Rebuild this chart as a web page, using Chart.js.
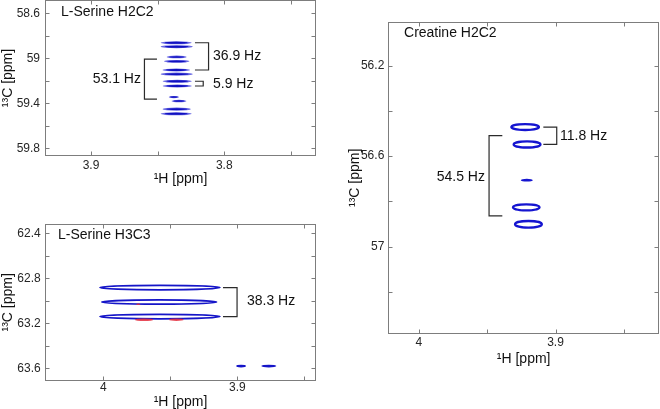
<!DOCTYPE html>
<html><head><meta charset="utf-8">
<script src="https://cdn.jsdelivr.net/npm/chart.js@4.4.1/dist/chart.umd.min.js"></script>
<style>
html,body{margin:0;padding:0;background:#fff;overflow:hidden;width:660px;height:409px;}
canvas{position:absolute;display:block;}
</style></head><body>
<canvas id="c1" width="330" height="200" style="left:0;top:0"></canvas>
<canvas id="c2" width="330" height="210" style="left:0;top:205px"></canvas>
<canvas id="c3" width="330" height="409" style="left:330px;top:0"></canvas>
<script>
// ---------- Panel A: L-Serine H2C2 ----------
const serH2C2_H     = [3.8361, 3.8357, 3.8357, 3.8357, 3.8360, 3.8357, 3.8353, 3.8353, 3.8378, 3.8340, 3.8357, 3.8361];
const serH2C2_C     = [58.862, 58.897, 58.988, 59.027, 59.104, 59.141, 59.204, 59.246, 59.344, 59.380, 59.452, 59.493];
const serH2C2_HalfH = [0.0116, 0.0120, 0.0075, 0.0095, 0.0103, 0.0120, 0.0109, 0.0109, 0.0038, 0.0056, 0.0105, 0.0116];
const serH2C2_HalfC = [0.014, 0.014, 0.012, 0.013, 0.014, 0.014, 0.014, 0.014, 0.010, 0.011, 0.014, 0.014];
const serH2C2_xTicks = [3.9, 3.8];
const serH2C2_yTicks = [58.6, 59, 59.4, 59.8];

// ---------- Panel B: L-Serine H3C3 ----------
const serH3C3_H     = [3.9577, 3.9583, 3.9577, 3.8972, 3.8765];
const serH3C3_C     = [62.882, 63.011, 63.140, 63.580, 63.580];
const serH3C3_HalfH = [0.0448, 0.0429, 0.0448, 0.0037, 0.0056];
const serH3C3_HalfC = [0.020, 0.019, 0.020, 0.012, 0.012];
const serH3C3Neg_H     = [3.9696, 3.9455, 3.9739];
const serH3C3Neg_C     = [63.168, 63.168, 63.031];
const serH3C3Neg_HalfH = [0.0070, 0.0055, 0.0015];
const serH3C3Neg_HalfC = [0.012, 0.011, 0.007];
const serH3C3_xTicks = [4, 3.9];
const serH3C3_yTicks = [62.4, 62.8, 63.2, 63.6];

// ---------- Panel C: Creatine H2C2 ----------
const creH2C2_H     = [3.9222, 3.9208, 3.9210, 3.9214, 3.9198];
const creH2C2_C     = [56.472, 56.549, 56.707, 56.827, 56.902];
const creH2C2_HalfH = [0.0101, 0.0098, 0.0044, 0.0097, 0.0098];
const creH2C2_HalfC = [0.0130, 0.0135, 0.0060, 0.0135, 0.0147];
const creH2C2_Fill  = [false, false, true, false, false];
const creH2C2_xTicks = [4, 3.9];
const creH2C2_yTicks = [56.2, 56.6, 57];

// ---------- Coupling annotations (ppm coordinates) ----------
const serH2C2_couplings = [
  {text: '36.9 Hz', open: 3.8220, spine: 3.8118, c1: 58.862, c2: 59.104, labelH: 3.8085, labelC: 58.985, side: 'right'},
  {text: '5.9 Hz',  open: 3.8220, spine: 3.8158, c1: 59.204, c2: 59.246, labelH: 3.8085, labelC: 59.233, side: 'right'},
  {text: '53.1 Hz', open: 3.8505, spine: 3.8599, c1: 59.008, c2: 59.362, labelH: 3.8625, labelC: 59.184, side: 'left'}
];
const serH3C3_couplings = [
  {text: '38.3 Hz', open: 3.9107, spine: 3.9002, c1: 62.882, c2: 63.140, labelH: 3.8928, labelC: 63.002, side: 'right'}
];
const creH2C2_couplings = [
  {text: '11.8 Hz', open: 3.9089, spine: 3.8991, c1: 56.472, c2: 56.549, labelH: 3.8967, labelC: 56.512, side: 'right'},
  {text: '54.5 Hz', open: 3.9389, spine: 3.9486, c1: 56.510, c2: 56.865, labelH: 3.9516, labelC: 56.693, side: 'left'}
];

const FONT = '"Liberation Sans", Arial, Helvetica, sans-serif';
Chart.defaults.font.family = FONT;

function peaks(H, C, HH, HC, fill) {
  return H.map((h, i) => ({x: h, y: C[i], hw: HH[i], hc: HC[i], fill: fill ? fill[i] : undefined}));
}

const nmrPlugin = {
  id: 'nmr',
  afterDatasetsDraw(chart) {
    const {ctx, chartArea: a, scales: {x, y}} = chart;
    const o = chart.options.plugins.nmr;
    ctx.save();
    ctx.beginPath(); ctx.rect(a.left, a.top, a.width, a.height); ctx.clip();
    chart.data.datasets.forEach(ds => {
      ds.data.forEach(p => {
        const cx = x.getPixelForValue(p.x), cy = y.getPixelForValue(p.y);
        const rx = Math.abs(x.getPixelForValue(p.x + p.hw) - cx);
        const ry = Math.abs(y.getPixelForValue(p.y + p.hc) - cy);
        const style = p.fill === true ? 'fill' : (p.fill === false ? 'ring' : ds.contourStyle);
        ctx.beginPath();
        ctx.ellipse(cx, cy, rx, ry, 0, 0, Math.PI * 2);
        if (style === 'lens') {
          ctx.fillStyle = 'rgba(40,40,215,0.7)'; ctx.fill();
          ctx.beginPath(); ctx.ellipse(cx, cy, rx * 0.75, ry * 0.6, 0, 0, Math.PI * 2);
          ctx.fillStyle = ds.color; ctx.fill();
        } else if (style === 'fill') {
          ctx.fillStyle = ds.color; ctx.fill();
        } else {
          ctx.lineWidth = ds.ringWidth || 1.6; ctx.strokeStyle = ds.color; ctx.stroke();
        }
      });
    });
    ctx.restore();

    // frame + inward ticks
    ctx.save();
    ctx.strokeStyle = '#7d7d7d'; ctx.lineWidth = 1;
    const L = Math.round(a.left) + 0.5, R = Math.round(a.right) - 0.5, T = Math.round(a.top) + 0.5, B = Math.round(a.bottom) - 0.5;
    ctx.strokeRect(L, T, R - L, B - T);
    ctx.beginPath();
    const tl = 4;
    x.ticks.forEach(t => {
      const px = Math.round(x.getPixelForValue(t.value)) + 0.5;
      ctx.moveTo(px, B); ctx.lineTo(px, B - tl);
      ctx.moveTo(px, T); ctx.lineTo(px, T + tl);
    });
    y.ticks.forEach(t => {
      const py = Math.round(y.getPixelForValue(t.value)) + 0.5;
      ctx.moveTo(L, py); ctx.lineTo(L + tl, py);
      ctx.moveTo(R, py); ctx.lineTo(R - tl, py);
    });
    ctx.stroke();
    ctx.restore();

    // couplings
    ctx.save();
    ctx.strokeStyle = '#2b2b2b'; ctx.lineWidth = 1.2;
    ctx.fillStyle = '#111'; ctx.font = '14px ' + FONT; ctx.textBaseline = 'middle';
    o.couplings.forEach(b => {
      const xo = x.getPixelForValue(b.open), xs = x.getPixelForValue(b.spine);
      const y1 = y.getPixelForValue(b.c1), y2 = y.getPixelForValue(b.c2);
      ctx.beginPath();
      ctx.moveTo(xo, y1); ctx.lineTo(xs, y1); ctx.lineTo(xs, y2); ctx.lineTo(xo, y2);
      ctx.stroke();
      ctx.textAlign = b.side === 'left' ? 'right' : 'left';
      ctx.fillText(b.text, x.getPixelForValue(b.labelH), y.getPixelForValue(b.labelC));
    });
    // panel title
    ctx.textAlign = 'left';
    ctx.fillText(o.title.text, x.getPixelForValue(o.title.h), y.getPixelForValue(o.title.c));
    ctx.restore();
  }
};

function tickCb(labels) {
  return function (v) {
    const m = labels.find(l => Math.abs(l - v) < 1e-6);
    return m === undefined ? '' : String(m);
  };
}

function noPad(s) { s.paddingTop = 0; s.paddingBottom = 0; s.paddingLeft = 0; s.paddingRight = 0; }

function makeChart(id, c) {
  return new Chart(document.getElementById(id), {
    type: 'scatter',
    data: {datasets: c.datasets.map(d => Object.assign({pointRadius: 0, pointHoverRadius: 0, showLine: false}, d))},
    plugins: [nmrPlugin],
    options: {
      responsive: false, animation: false, events: [],
      layout: {padding: c.padding},
      plugins: {legend: {display: false}, tooltip: {enabled: false},
        nmr: {couplings: c.couplings, title: c.title}},
      scales: {
        x: {
          type: 'linear', reverse: true, min: c.xMin, max: c.xMax,
          grid: {display: false, drawTicks: false}, border: {display: false},
          ticks: {stepSize: 0.05, includeBounds: false, autoSkip: false, maxRotation: 0,
            padding: c.xTickPad, color: '#262626', font: {size: 12}, callback: tickCb(c.xTicks)},
          title: {display: true, text: '¹H [ppm]', color: '#111', font: {size: 14},
            padding: {top: 0, bottom: c.xTitlePad}},
          afterFit: s => { s.height = c.xAxisH; noPad(s); }
        },
        y: {
          type: 'linear', reverse: true, min: c.yMin, max: c.yMax,
          grid: {display: false, drawTicks: false}, border: {display: false},
          ticks: {stepSize: 0.2, includeBounds: false, autoSkip: false,
            padding: c.yTickPad, color: '#262626', font: {size: 12}, callback: tickCb(c.yTicks)},
          title: {display: true, text: '¹³C [ppm]', color: '#111', font: {size: 14},
            padding: {top: c.yTitlePad, bottom: 0}},
          afterFit: s => { s.width = c.yAxisW; noPad(s); }
        }
      }
    }
  });
}

makeChart('c1', {
  xMin: 3.7312, xMax: 3.9345, yMin: 58.482, yMax: 59.868,
  xTicks: serH2C2_xTicks, yTicks: serH2C2_yTicks,
  padding: {top: 0, right: 14, left: 0, bottom: 0},
  xAxisH: 44, yAxisW: 45, xTickPad: 2.8, yTickPad: 5, xTitlePad: 12.6, yTitlePad: 0,
  title: {text: 'L-Serine H2C2', h: 3.9225, c: 58.588},
  couplings: serH2C2_couplings,
  datasets: [
    {label: 'L-Serine H2C2', data: peaks(serH2C2_H, serH2C2_C, serH2C2_HalfH, serH2C2_HalfC), contourStyle: 'lens', color: '#1010c0'}
  ]
});

makeChart('c2', {
  xMin: 3.8413, xMax: 4.0435, yMin: 62.317, yMax: 63.710,
  xTicks: serH3C3_xTicks, yTicks: serH3C3_yTicks,
  padding: {top: 19, right: 14, left: 0, bottom: 0},
  xAxisH: 34.3, yAxisW: 45, xTickPad: 0, yTickPad: 4.3, xTitlePad: 4.1, yTitlePad: 0,
  title: {text: 'L-Serine H3C3', h: 4.0338, c: 62.415},
  couplings: serH3C3_couplings,
  datasets: [
    {label: 'L-Serine H3C3', data: peaks(serH3C3_H.slice(0, 3), serH3C3_C.slice(0, 3), serH3C3_HalfH.slice(0, 3), serH3C3_HalfC.slice(0, 3)), contourStyle: 'ring', ringWidth: 1.7, color: '#1515c8'},
    {label: 'other', data: peaks(serH3C3_H.slice(3), serH3C3_C.slice(3), serH3C3_HalfH.slice(3), serH3C3_HalfC.slice(3)), contourStyle: 'fill', color: '#1515c8'},
    {label: 'negative', data: peaks(serH3C3Neg_H, serH3C3Neg_C, serH3C3Neg_HalfH, serH3C3Neg_HalfC), contourStyle: 'fill', color: 'rgba(228,45,60,0.85)'}
  ]
});

makeChart('c3', {
  xMin: 3.8243, xMax: 4.0223, yMin: 56.0064, yMax: 57.3867,
  xTicks: creH2C2_xTicks, yTicks: creH2C2_yTicks,
  padding: {top: 21.7, right: 1, left: 0, bottom: 0},
  xAxisH: 75, yAxisW: 58.3, xTickPad: 1.1, yTickPad: 4, xTitlePad: 41.1, yTitlePad: 16.6,
  title: {text: 'Creatine H2C2', h: 4.0108, c: 56.0577},
  couplings: creH2C2_couplings,
  datasets: [
    {label: 'Creatine H2C2', data: peaks(creH2C2_H, creH2C2_C, creH2C2_HalfH, creH2C2_HalfC, creH2C2_Fill), contourStyle: 'ring', ringWidth: 2.3, color: '#1515d0'}
  ]
});
</script>
</body></html>
